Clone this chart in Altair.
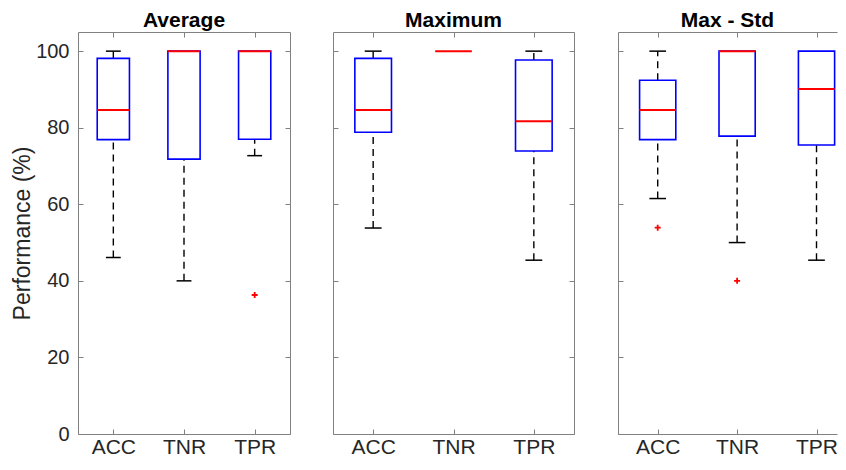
import altair as alt
import pandas as pd

# ---------------- data ----------------
panels = ["Average", "Maximum", "Max - Std"]
categories = ["ACC", "TNR", "TPR"]
positions = [1, 2, 3]

avg_low = [46.1, 40.0, 72.7]
avg_q1 = [76.9, 71.8, 77.0]
avg_med = [84.6, 100.0, 100.0]
avg_q3 = [98.1, 100.0, 100.0]
avg_high = [100.0, 100.0, 100.0]
avg_out_pos = [3]
avg_out_val = [36.3]

max_low = [53.8, 100.0, 45.4]
max_q1 = [78.8, 100.0, 73.9]
max_med = [84.6, 100.0, 81.7]
max_q3 = [98.1, 100.0, 97.7]
max_high = [100.0, 100.0, 100.0]
max_out_pos = []
max_out_val = []

std_low = [61.5, 50.0, 45.4]
std_q1 = [76.9, 77.8, 75.5]
std_med = [84.6, 100.0, 90.1]
std_q3 = [92.4, 100.0, 100.0]
std_high = [100.0, 100.0, 100.0]
std_out_pos = [1, 2]
std_out_val = [53.9, 40.0]

y_ticks = [0, 20, 40, 60, 80, 100]

# ---------------- styling ----------------
FONT = "Liberation Sans"
FRAME = "#808080"
TEXT = "#262626"
BLUE = "#0000FF"
RED = "#FF0000"
BOX_HALF = 0.228
CAP_HALF = 0.105
H = 402

label_expr = "[''," + ",".join("'%s'" % c for c in categories) + "][datum.value]"


def make_panel(name, low, q1, med, q3, high, out_pos, out_val,
               width, xmax, first, right_frame):
    xs = alt.Scale(domain=[0.5, xmax], nice=False, zero=False)
    ys = alt.Scale(domain=[0, 105], nice=False, zero=False)

    box = pd.DataFrame({
        "pos": positions,
        "l": [p - BOX_HALF for p in positions],
        "r": [p + BOX_HALF for p in positions],
        "q1": q1, "q3": q3, "med": med,
    })
    box_drawn = box[box["q3"] > box["q1"]]
    wrows = []
    crows = []
    for p, lo, a, b, hi in zip(positions, low, q1, q3, high):
        if lo < a:
            wrows.append({"pos": p, "a": lo, "b": a})
            crows.append({"l": p - CAP_HALF, "r": p + CAP_HALF, "v": lo})
        if hi > b:
            wrows.append({"pos": p, "a": b, "b": hi})
            crows.append({"l": p - CAP_HALF, "r": p + CAP_HALF, "v": hi})
    whisk = pd.DataFrame(wrows)
    caps = pd.DataFrame(crows)

    x_axis = alt.Axis(values=positions, labelExpr=label_expr, ticks=False,
                      domain=True, domainColor=FRAME, labelFontSize=21,
                      labelColor=TEXT, labelFont=FONT, labelPadding=2,
                      grid=True, gridDash=[5, H - 10, 5], gridColor=FRAME,
                      title=None, minExtent=0)
    if first:
        y_axis = alt.Axis(values=y_ticks, ticks=False, domain=True,
                          domainColor=FRAME, labelFontSize=20, labelColor=TEXT,
                          labelFont=FONT, labelPadding=9, grid=True,
                          gridDash=[5, width - 10, 5], gridColor=FRAME,
                          title="Performance (%)", titleFontSize=23,
                          titleFont=FONT, titleFontWeight="normal",
                          titleColor=TEXT, titlePadding=1, minExtent=0)
    else:
        dash = [5, width - 10, 5] if right_frame else [5, 5000]
        y_axis = alt.Axis(values=y_ticks, ticks=False, labels=False,
                          domain=True, domainColor=FRAME, grid=True,
                          gridDash=dash, gridColor=FRAME, title=None,
                          minExtent=0)

    x_top = alt.Axis(orient="top", labels=False, ticks=False, domain=True,
                     domainColor=FRAME, grid=False, title=None, minExtent=0)
    y_right = alt.Axis(orient="right", labels=False, ticks=False, domain=True,
                       domainColor=FRAME, grid=False, title=None, minExtent=0)

    box_layer = alt.Chart(box_drawn).mark_rect(fill="white", stroke=BLUE,
                                               strokeWidth=1.6).encode(
        x=alt.X("l:Q", scale=xs, axis=x_axis),
        x2="r:Q",
        y=alt.Y("q1:Q", scale=ys, axis=y_axis),
        y2="q3:Q",
    )
    whisk_layer = alt.Chart(whisk).mark_rule(color="black", strokeWidth=1.4,
                                             strokeDash=[7, 5]).encode(
        x=alt.X("pos:Q", scale=xs, axis=None),
        y=alt.Y("a:Q", scale=ys, axis=None),
        y2="b:Q",
    )
    cap_layer = alt.Chart(caps).mark_rule(color="black", strokeWidth=1.5).encode(
        x=alt.X("l:Q", scale=xs, axis=None),
        x2="r:Q",
        y=alt.Y("v:Q", scale=ys, axis=None),
    )
    med_layer = alt.Chart(box).mark_rule(color=RED, strokeWidth=2).encode(
        x=alt.X("l:Q", scale=xs, axis=x_top),
        x2="r:Q",
        y=alt.Y("med:Q", scale=ys, axis=(y_right if right_frame else None)),
    )
    layers = [whisk_layer, cap_layer, box_layer, med_layer]
    if out_pos:
        outs = pd.DataFrame({"pos": out_pos, "v": out_val})
        out_layer = alt.Chart(outs).mark_point(
            shape="M-1,0L1,0M0,-1L0,1", filled=False, color=RED,
            size=36, strokeWidth=1.8, opacity=1).encode(
            x=alt.X("pos:Q", scale=xs, axis=None),
            y=alt.Y("v:Q", scale=ys, axis=None),
        )
        layers.append(out_layer)

    return alt.layer(*layers).resolve_axis(x="independent", y="independent").properties(
        width=width, height=H,
        title=alt.TitleParams(name, fontSize=21, fontWeight="bold", font=FONT,
                              color="black", offset=1),
    )


p1 = make_panel(panels[0], avg_low, avg_q1, avg_med, avg_q3, avg_high,
                avg_out_pos, avg_out_val, 212, 3.5, True, True)
p2 = make_panel(panels[1], max_low, max_q1, max_med, max_q3, max_high,
                max_out_pos, max_out_val, 241, 3.5, False, True)
p3 = make_panel(panels[2], std_low, std_q1, std_med, std_q3, std_high,
                std_out_pos, std_out_val, 219, 3.258, False, False)

chart = alt.hconcat(alt.hconcat(p1, p2, spacing=43), p3, spacing=44,
                    padding={"left": 3, "top": 2, "right": 0, "bottom": 0}
                    ).configure_view(stroke=None)

chart.save("out.html", embed_options={"renderer": "svg", "actions": False})
